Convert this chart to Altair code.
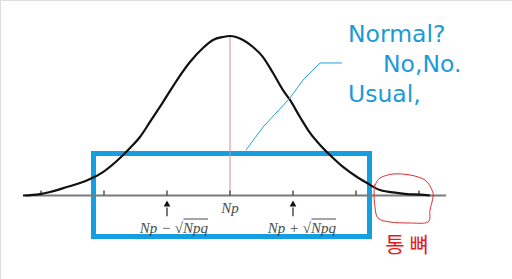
import altair as alt
import pandas as pd

# ---- data (x in standard-deviation units from Np, y = height relative to the peak) ----
curve_x = [-3.286, -3.016, -2.857, -2.587, -2.381, -2.222, -2.016, -1.746, -1.587, -1.429,
           -1.270, -1.063, -0.841, -0.635, -0.429, -0.270, -0.111, 0.0,
           0.206, 0.365, 0.524, 0.683, 0.841, 0.952, 1.111, 1.270, 1.429, 1.587, 1.794,
           2.016, 2.175, 2.381, 2.651, 2.810, 3.016, 3.175]
curve_y = [0.0, 0.009, 0.022, 0.053, 0.078, 0.103, 0.147, 0.235, 0.298, 0.367,
           0.461, 0.586, 0.724, 0.837, 0.925, 0.975, 0.994, 1.0,
           0.975, 0.931, 0.868, 0.768, 0.661, 0.599, 0.492, 0.392, 0.317, 0.254, 0.179,
           0.116, 0.078, 0.034, 0.016, 0.009, 0.006, 0.0]

axis_range = [-3.25, 3.43]
tick_positions = [-3, -2, -1, 0, 1, 2, 3]
arrow_positions = [-1, 1]

tick_labels = ["Np", "Np − √Npq", "Np + √Npq"]
tick_label_x = [0, -0.89, 1.14]
tick_label_y = [-0.078, -0.205, -0.205]

box_x = [-2.167, 2.214]
box_y = [-0.257, 0.263]

pointer_x = [0.254, 0.524, 0.952, 1.159, 1.429, 1.778]
pointer_y = [0.285, 0.429, 0.611, 0.724, 0.831, 0.831]

note_lines = ["Normal?", "No,No.", "Usual,"]
note_x = [1.873, 2.429, 1.873]
note_y = [0.962, 0.774, 0.586]

circle_px_x = [375, 380, 393, 410, 425, 432, 433, 430, 428, 410, 390, 378, 375, 374, 375]
circle_px_y = [185, 178, 174, 175, 180, 190, 197, 210, 222, 223, 222, 218, 207, 193, 185]
circle_x = [(v - 230) / 63 for v in circle_px_x]
circle_y = [(195.5 - v) / 159.5 for v in circle_px_y]

korean_label = "통 뼈"
korean_x = 2.81
korean_y = -0.317

XD = [-230 / 63, 282 / 63]
YD = [-83.5 / 159.5, 195.5 / 159.5]
xs = alt.Scale(domain=XD, zero=False, nice=False)
ys = alt.Scale(domain=YD, zero=False, nice=False)
X = lambda f: alt.X(f, type="quantitative", scale=xs, axis=None)
Y = lambda f: alt.Y(f, type="quantitative", scale=ys, axis=None)

curve_df = pd.DataFrame({"x": curve_x, "y": curve_y})
curve = alt.Chart(curve_df).mark_line(color="#111111", strokeWidth=2.2, interpolate="monotone").encode(
    x=X("x"), y=Y("y"))

axis_df = pd.DataFrame({"x": [axis_range[0]], "x2": [axis_range[1]], "y": [0.0]})
axis_line = alt.Chart(axis_df).mark_rule(color="#7a7a7a", strokeWidth=2).encode(
    x=X("x"), x2="x2", y=Y("y"))

ticks_df = pd.DataFrame({"x": tick_positions, "y": [0.0] * len(tick_positions),
                         "y2": [0.032] * len(tick_positions)})
ticks = alt.Chart(ticks_df).mark_rule(color="#555555", strokeWidth=1.5).encode(
    x=X("x"), y=Y("y"), y2="y2")

center_df = pd.DataFrame({"x": [0.0], "y": [0.0], "y2": [1.0]})
center = alt.Chart(center_df).mark_rule(color="#d98c8c", strokeWidth=1).encode(
    x=X("x"), y=Y("y"), y2="y2")

arrow_df = pd.DataFrame({"x": arrow_positions, "y": [-0.075] * 2, "y2": [-0.13] * 2,
                         "ty": [-0.05] * 2})
shafts = alt.Chart(arrow_df).mark_rule(color="#222222", strokeWidth=1.2).encode(
    x=X("x"), y=Y("y"), y2="y2")
heads = alt.Chart(arrow_df).mark_point(shape="triangle-up", filled=True, color="#111111",
                                       size=45, opacity=1).encode(x=X("x"), y=Y("ty"))

lab_df = pd.DataFrame({"x": tick_label_x, "y": tick_label_y, "t": tick_labels})
labels = alt.Chart(lab_df).mark_text(font="Liberation Serif", fontStyle="italic", fontSize=15,
                                     color="#4a4a4a", baseline="middle").encode(
    x=X("x"), y=Y("y"), text="t:N")

over_df = pd.DataFrame({"x": [(183.5 - 230) / 63, (311.5 - 230) / 63],
                        "x2": [(208 - 230) / 63, (336 - 230) / 63],
                        "y": [(195.5 - 219) / 159.5] * 2})
overlines = alt.Chart(over_df).mark_rule(color="#4a4a4a", strokeWidth=1).encode(
    x=X("x"), x2="x2", y=Y("y"))

box_df = pd.DataFrame({"x": [box_x[0]], "x2": [box_x[1]], "y": [box_y[0]], "y2": [box_y[1]]})
box = alt.Chart(box_df).mark_rect(fillOpacity=0, stroke="#139fe0", strokeWidth=5).encode(
    x=X("x"), x2="x2", y=Y("y"), y2="y2")

ptr_df = pd.DataFrame({"x": pointer_x, "y": pointer_y, "o": list(range(len(pointer_x)))})
pointer = alt.Chart(ptr_df).mark_line(color="#2a9fd8", strokeWidth=1).encode(
    x=X("x"), y=Y("y"), order="o:Q")

note_df = pd.DataFrame({"x": note_x, "y": note_y, "t": note_lines})
notes = alt.Chart(note_df).mark_text(font="DejaVu Sans ExtraLight, DejaVu Sans", fontSize=23.5,
                                     color="#1d9ad6", align="left", baseline="alphabetic").encode(
    x=X("x"), y=Y("y"), text="t:N")

circ_df = pd.DataFrame({"x": circle_x, "y": circle_y, "o": list(range(len(circle_x)))})
circle = alt.Chart(circ_df).mark_line(color="#e03030", strokeWidth=1, interpolate="cardinal-closed").encode(
    x=X("x"), y=Y("y"), order="o:Q")

kor_df = pd.DataFrame({"x": [korean_x], "y": [korean_y], "t": [korean_label]})
korean = alt.Chart(kor_df).mark_text(font="Noto Sans CJK KR", fontSize=21, color="#e02020",
                                     baseline="middle").encode(x=X("x"), y=Y("y"), text="t:N")

chart = alt.layer(box, center, axis_line, ticks, curve, shafts, heads, labels, overlines,
                  pointer, notes, circle, korean).properties(
    width=512, height=279, padding=0, autosize=alt.AutoSizeParams(type="none")
).configure_view(stroke=None).configure(background="white")

chart.save("out.html", embed_options={"renderer": "svg", "actions": False})
